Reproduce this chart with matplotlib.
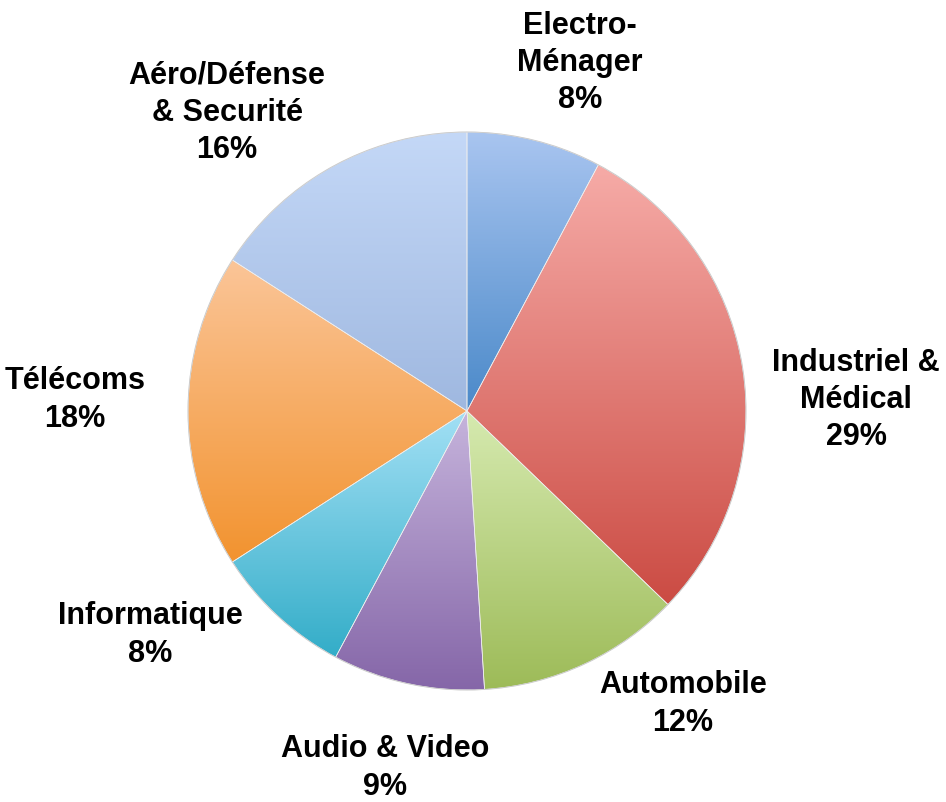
import matplotlib.pyplot as plt
import numpy as np
from matplotlib.colors import to_rgb

# data (clockwise from 12 o'clock)
labels = ['Electro-\nMénager', 'Industriel &\nMédical', 'Automobile',
          'Audio & Video', 'Informatique', 'Télécoms',
          'Aéro/Défense\n& Securité']
values = [7.8, 29.4, 11.8, 8.8, 8.1, 18.2, 15.9]
pct_text = ['8%', '29%', '12%', '9%', '8%', '18%', '16%']

# gradient colours (top, bottom) for each slice
top_colors = ['#a9c5f0', '#f6aba7', '#d6eab0', '#c6b4dc', '#a3e0f5',
              '#fbc598', '#c4d8f7']
bottom_colors = ['#4a89c9', '#cb4b43', '#9dbb58', '#8566a8', '#33adc8',
                 '#f2932f', '#9fb8e0']

# label positions in pixels (x, y from top)
label_pos = [(580, 63), (856, 400), (683, 704), (385, 768), (150, 635),
             (75, 400), (227, 113)]

W, H = 946, 803
fig = plt.figure(figsize=(W / 100, H / 100), dpi=100)
ax = fig.add_axes([0, 0, 1, 1])

cx, cy, rad = 467, H - 412, 279
wedges, _ = ax.pie(values, startangle=90, counterclock=False,
                   center=(cx, cy), radius=rad, frame=True,
                   wedgeprops=dict(linewidth=0.5, edgecolor='#eeeeee'))
ax.set_xlim(0, W)
ax.set_ylim(0, H)
ax.set_aspect('equal')
ax.axis('off')

for w, c_top, c_bot in zip(wedges, top_colors, bottom_colors):
    verts = w.get_path().vertices
    y0, y1 = verts[:, 1].min(), verts[:, 1].max()
    x0, x1 = verts[:, 0].min(), verts[:, 0].max()
    t = np.linspace(0, 1, 256)[:, None]
    grad = (1 - t) * np.array(to_rgb(c_top)) + t * np.array(to_rgb(c_bot))
    img = ax.imshow(grad[:, None, :], extent=(x0, x1, y0, y1),
                    origin='upper', aspect='auto', zorder=1,
                    interpolation='bilinear')
    img.set_clip_path(w)
    w.set_facecolor('none')
    w.set_zorder(2)

ax.add_patch(plt.Circle((cx, cy), rad, fill=False, ec='#cccccc', lw=0.7,
                        zorder=3))

for lab, pct, (px, py) in zip(labels, pct_text, label_pos):
    ax.text(px, H - py, f'{lab}\n{pct}', ha='center', va='center',
            fontsize=22, fontweight='bold', family='Liberation Sans',
            linespacing=1.32, color='black')

fig.savefig('out.png', dpi=100)
